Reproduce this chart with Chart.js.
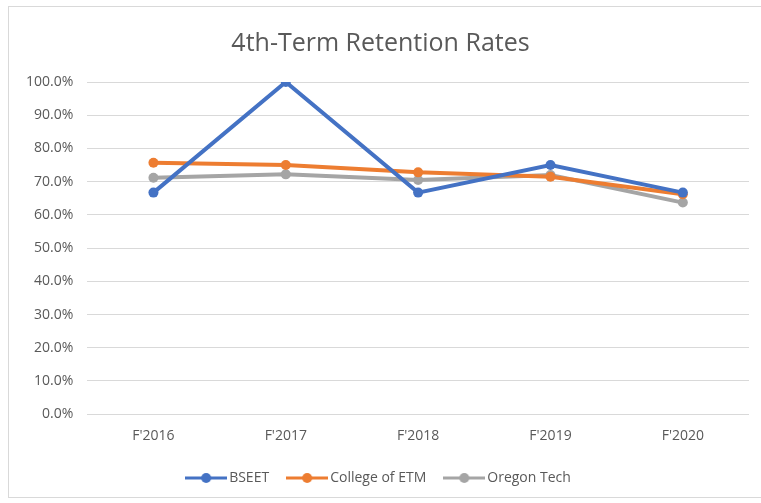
<!DOCTYPE html>
<html>
<head>
<meta charset="utf-8">
<script src="https://cdn.jsdelivr.net/npm/chart.js@4"></script>
<style>
    body { margin: 0; background: #ffffff; overflow: hidden; }
    .frame { position: absolute; left: 8px; top: 6px; width: 800px; height: 490px; border: 1px solid #d9d9d9; }
    #wrap { position: absolute; left: 0; top: 0; width: 761px; height: 503px; }
</style>
</head>
<body>
<div class="frame"></div>
<div id="wrap"><canvas id="chart" width="761" height="503"></canvas></div>
<script>
const terms = ["F'2016", "F'2017", "F'2018", "F'2019", "F'2020"];
const bseet = [0.667, 1.0, 0.667, 0.75, 0.667];
const collegeEtm = [0.757, 0.75, 0.728, 0.715, 0.662];
const oregonTech = [0.712, 0.722, 0.705, 0.72, 0.637];
const seriesNames = ["BSEET", "College of ETM", "Oregon Tech"];
const seriesColors = ["#4472C4", "#ED7D31", "#A5A5A5"];

function legendIcon(color) {
    const c = document.createElement("canvas");
    c.width = 42;
    c.height = 12;
    const ctx = c.getContext("2d");
    ctx.strokeStyle = color;
    ctx.lineWidth = 3;
    ctx.beginPath();
    ctx.moveTo(0, 6);
    ctx.lineTo(42, 6);
    ctx.stroke();
    ctx.fillStyle = color;
    ctx.beginPath();
    ctx.arc(21, 6, 5, 0, Math.PI * 2);
    ctx.fill();
    return c;
}

const icons = seriesColors.map(legendIcon);

function makeSet(i, values) {
    return {
        label: seriesNames[i],
        data: values,
        borderColor: seriesColors[i],
        backgroundColor: seriesColors[i],
        borderWidth: 4,
        pointRadius: 5,
        pointBorderWidth: 0,
        tension: 0
    };
}

new Chart(document.getElementById("chart"), {
    type: "line",
    data: {
        labels: terms,
        datasets: [makeSet(0, bseet), makeSet(1, collegeEtm), makeSet(2, oregonTech)]
    },
    options: {
        responsive: false,
        animation: false,
        devicePixelRatio: 1,
        layout: { padding: { left: 12, right: 12, top: 16, bottom: 8 } },
        plugins: {
            title: {
                display: true,
                text: "4th-Term Retention Rates",
                color: "#595959",
                font: { family: "Open Sans", size: 25, weight: "normal" },
                padding: { top: 13, bottom: 23 }
            },
            legend: {
                position: "bottom",
                labels: {
                    color: "#595959",
                    font: { family: "Open Sans", size: 14 },
                    usePointStyle: true,
                    pointStyleWidth: 32,
                    padding: 22,
                    generateLabels(chart) {
                        return chart.data.datasets.map((ds, i) => ({
                            text: ds.label,
                            pointStyle: icons[i],
                            fontColor: "#595959",
                            datasetIndex: i,
                            lineWidth: 0,
                            hidden: false
                        }));
                    }
                }
            },
            tooltip: { enabled: false }
        },
        scales: {
            x: {
                offset: true,
                grid: { display: false },
                border: { display: false },
                ticks: { color: "#595959", font: { family: "Open Sans", size: 14 }, padding: 5 }
            },
            y: {
                min: 0,
                max: 1,
                ticks: {
                    stepSize: 0.1,
                    color: "#595959",
                    font: { family: "Open Sans", size: 14 },
                    padding: 14,
                    callback: v => (v * 100).toFixed(1) + "%"
                },
                grid: { color: "#d9d9d9", lineWidth: 1, drawTicks: false },
                border: { display: false }
            }
        }
    }
});
</script>
</body>
</html>
